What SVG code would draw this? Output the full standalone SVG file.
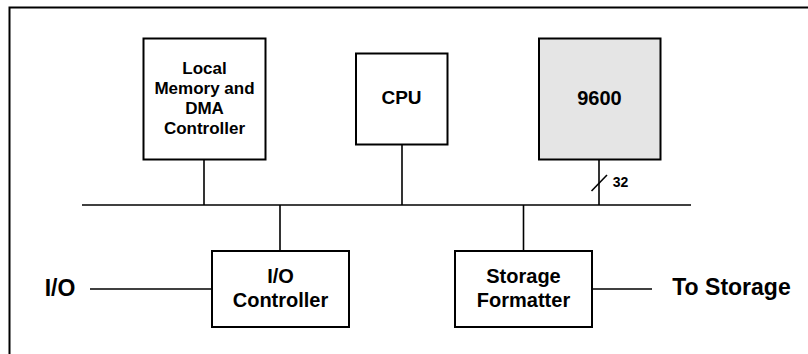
<svg xmlns="http://www.w3.org/2000/svg" width="808" height="354" viewBox="0 0 808 354">
<style>
.box{fill:#fff;stroke:#000;stroke-width:2}
.shaded{fill:#e5e5e5}
.ln{stroke:#000;stroke-width:1.6;fill:none}
text{font-family:"Liberation Sans",Arial,sans-serif;font-weight:bold;fill:#000;text-anchor:middle}
.t17{font-size:17px}
.t20{font-size:20px}
.t23{font-size:23px}
.t14{font-size:14px}
</style>
<rect width="808" height="354" fill="#fff"/>
<path d="M9.5 354 V7.5 H808" fill="none" stroke="#000" stroke-width="2"/>
<g id="connectors">
<line class="ln" x1="82" y1="205" x2="691" y2="205" stroke-width="2"/>
<line class="ln" x1="204" y1="159.5" x2="204" y2="205"/>
<line class="ln" x1="402" y1="144.5" x2="402" y2="205"/>
<line class="ln" x1="599" y1="159.5" x2="599" y2="205"/>
<line class="ln" x1="280" y1="205" x2="280" y2="251"/>
<line class="ln" x1="523.5" y1="205" x2="523.5" y2="251"/>
<line class="ln" x1="90" y1="289" x2="212" y2="289"/>
<line class="ln" x1="592" y1="289" x2="652" y2="289"/>
<line class="ln" x1="591.5" y1="191" x2="607" y2="175"/>
<text class="t14" x="620.5" y="187">32</text>
</g>
<g id="mem">
<rect class="box" x="143.5" y="38.5" width="122" height="121"/>
<text class="t17" x="204.5" y="74">Local</text>
<text class="t17" x="204.5" y="94">Memory and</text>
<text class="t17" x="204.5" y="114">DMA</text>
<text class="t17" x="204.5" y="134">Controller</text>
</g>
<g id="cpu">
<rect class="box" x="356" y="53.5" width="91.5" height="91"/>
<text class="t20" x="401.5" y="103.5" style="font-size:19px">CPU</text>
</g>
<g id="n9600">
<rect class="box shaded" x="539" y="38.5" width="121.5" height="121"/>
<text class="t20" x="599.5" y="104.5">9600</text>
</g>
<g id="ioc">
<rect class="box" x="212" y="251" width="137" height="76"/>
<text class="t20" x="280.5" y="282.5">I/O</text>
<text class="t20" x="280.5" y="306.5">Controller</text>
</g>
<g id="sf">
<rect class="box" x="455" y="251" width="137" height="76"/>
<text class="t20" x="523.5" y="283">Storage</text>
<text class="t20" x="523.5" y="306.5">Formatter</text>
</g>
<g id="io">
<text class="t23" x="60" y="296">I/O</text>
</g>
<g id="tostorage">
<text class="t23" x="731.5" y="295">To Storage</text>
</g>
</svg>
